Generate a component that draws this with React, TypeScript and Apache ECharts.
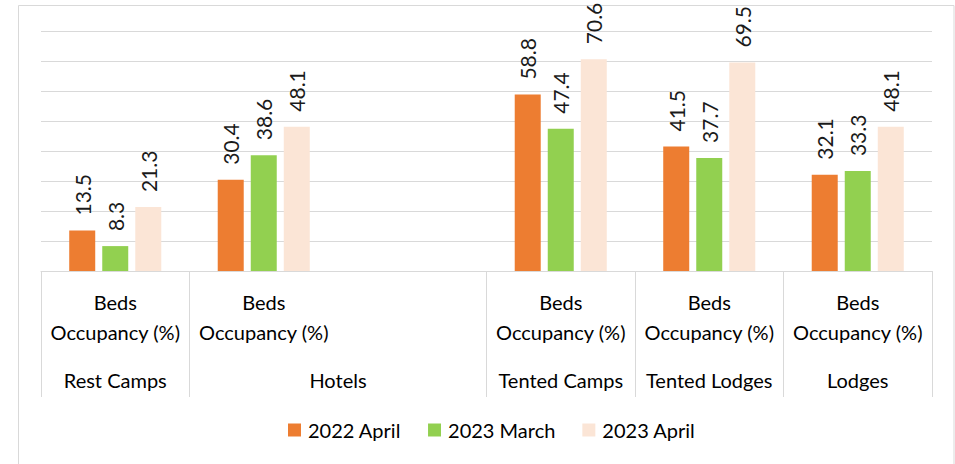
import React, { useEffect, useRef } from "react";
import * as echarts from "echarts";

// Slots on the category axis (Hotels spans two slots, the second one empty)
const slots = ["Rest Camps", "Hotels", "Hotels (blank)", "Tented Camps", "Tented Lodges", "Lodges"];
const subLabels = ["Beds\nOccupancy (%)", "Beds\nOccupancy (%)", "", "Beds\nOccupancy (%)", "Beds\nOccupancy (%)", "Beds\nOccupancy (%)"];
const groupNames = ["Rest Camps", "Hotels", "Tented Camps", "Tented Lodges", "Lodges"];
const groupSpans = [1, 2, 1, 1, 1];

const seriesNames = ["2022 April", "2023 March", "2023 April"];
const april2022 = [13.5, 30.4, null, 58.8, 41.5, 32.1];
const march2023 = [8.3, 38.6, null, 47.4, 37.7, 33.3];
const april2023 = [21.3, 48.1, null, 70.6, 69.5, 48.1];
const colors = ["#ED7D31", "#92D050", "#FBE5D6"];

const yTicks = [0, 10, 20, 30, 40, 50, 60, 70, 80];

const FONT = "Lato";

export default function App() {
  const ref = useRef<HTMLDivElement>(null);
  useEffect(() => {
    if (!ref.current) return;
    const chart = echarts.init(ref.current, null, { renderer: "svg" });

    const boundaries: number[] = [0];
    const centers: number[] = [];
    let acc = 0;
    groupSpans.forEach((s) => {
      centers.push(acc + s / 2);
      acc += s;
      boundaries.push(acc);
    });

    const data = [april2022, march2023, april2023];
    const labelStyle = {
      show: true,
      position: "top",
      rotate: 90,
      align: "left",
      verticalAlign: "middle",
      distance: 15,
      fontSize: 21,
      fontFamily: FONT,
      color: "#1a1a1a",
    };

    chart.setOption({
      animation: false,
      backgroundColor: "#fff",
      grid: { left: 41, right: 23, top: 31, bottom: 193, containLabel: false },
      graphic: [
        {
          type: "rect",
          shape: { x: 18.5, y: 5.5, width: 935.5, height: 470 },
          style: { fill: "none", stroke: "#d9d9d9", lineWidth: 1 },
          silent: true,
        },
      ],
      legend: {
        left: 283,
        top: 415,
        icon: "rect",
        itemWidth: 13,
        itemHeight: 13,
        itemGap: 27,
        data: seriesNames,
        textStyle: { fontSize: 20, fontFamily: FONT, color: "#000", padding: [0, 0, 0, 2] },
      },
      xAxis: [
        {
          type: "category",
          data: slots,
          axisLine: { lineStyle: { color: "#d9d9d9", width: 1 } },
          axisTick: { show: false },
          axisLabel: {
            interval: 0,
            formatter: (_v: string, i: number) => subLabels[i],
            fontSize: 20,
            lineHeight: 30,
            margin: 16,
            fontFamily: FONT,
            color: "#000",
          },
        },
        {
          type: "value",
          min: 0,
          max: acc,
          position: "bottom",
          axisLine: { show: false },
          splitLine: { show: false },
          axisTick: {
            show: true,
            length: 126,
            customValues: boundaries,
            lineStyle: { color: "#d9d9d9", width: 1 },
          },
          axisLabel: {
            customValues: centers,
            formatter: (v: number) => {
              const idx = centers.findIndex((c) => Math.abs(c - v) < 1e-6);
              return idx >= 0 ? groupNames[idx] : "";
            },
            fontSize: 20,
            lineHeight: 30,
            margin: 94,
            fontFamily: FONT,
            color: "#000",
          },
        },
      ],
      yAxis: {
        type: "value",
        min: yTicks[0],
        max: yTicks[yTicks.length - 1],
        interval: yTicks[1] - yTicks[0],
        axisLabel: { show: false },
        axisLine: { show: false },
        axisTick: { show: false },
        splitLine: { lineStyle: { color: "#d9d9d9", width: 1 } },
      },
      series: seriesNames.map((name, k) => ({
        name,
        type: "bar",
        xAxisIndex: 0,
        data: data[k],
        barWidth: 26,
        barGap: "27%",
        itemStyle: { color: colors[k] },
        label: labelStyle,
      })),
    });

    return () => chart.dispose();
  }, []);

  return (
    <div
      ref={ref}
      style={{ position: "fixed", left: 0, top: 0, width: 955, height: 464, background: "#fff" }}
    />
  );
}
